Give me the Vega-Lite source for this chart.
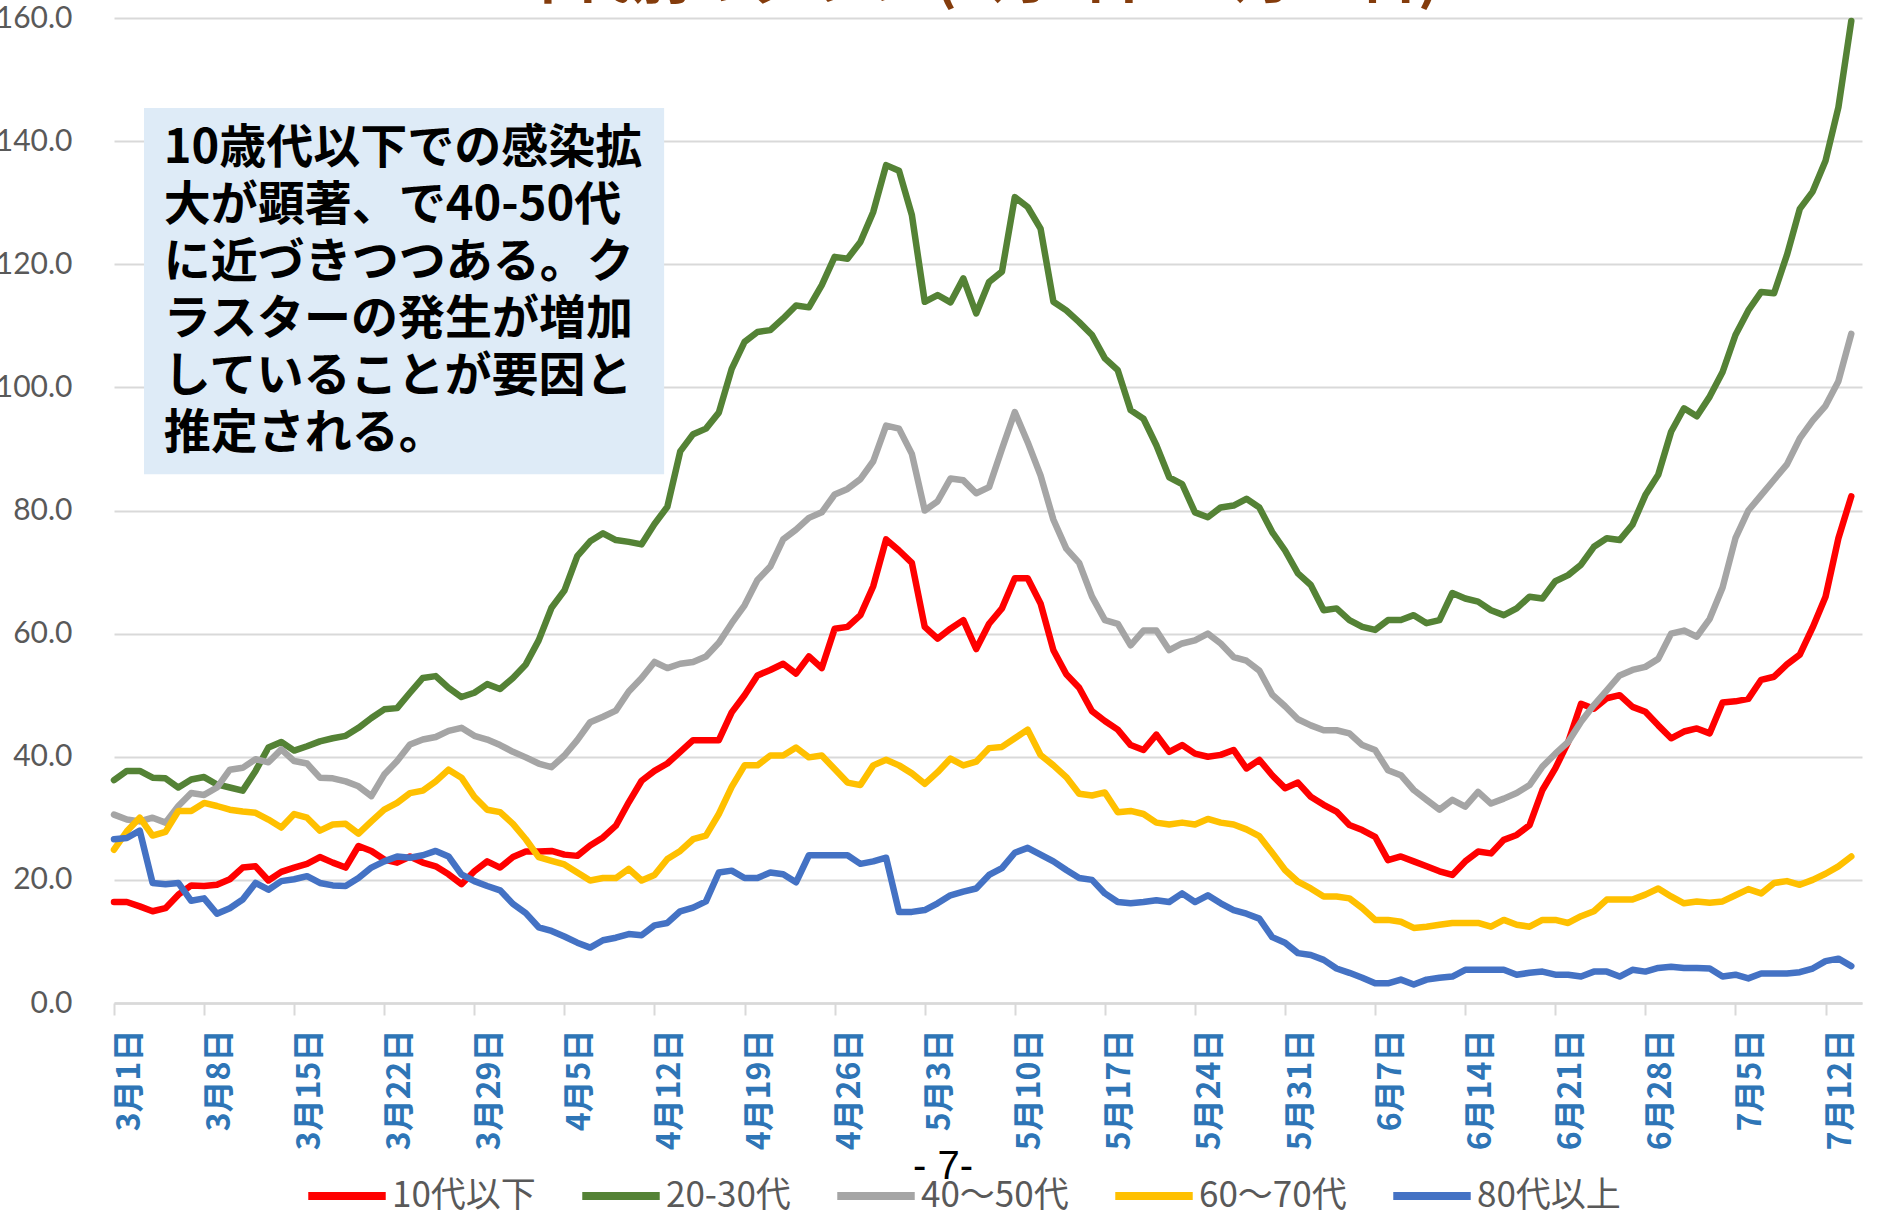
{
"$schema":"https://vega.github.io/schema/vega-lite/v6.json",
"autosize":{"type":"none"},
"width":1748,"height":985,
"padding":{"left":114,"top":18,"right":21,"bottom":215},
"background":"white",
"config":{"view":{"stroke":null}},
"datasets":{"rows":[
{"t":"2021/3/1","s":"10代以下","v":16.4},{"t":"2021/3/2","s":"10代以下","v":16.4},{"t":"2021/3/3","s":"10代以下","v":15.7},{"t":"2021/3/4","s":"10代以下","v":14.9},{"t":"2021/3/5","s":"10代以下","v":15.4},{"t":"2021/3/6","s":"10代以下","v":17.6},{"t":"2021/3/7","s":"10代以下","v":19.1},{"t":"2021/3/8","s":"10代以下","v":19.0},{"t":"2021/3/9","s":"10代以下","v":19.2},{"t":"2021/3/10","s":"10代以下","v":20.1},{"t":"2021/3/11","s":"10代以下","v":22.0},{"t":"2021/3/12","s":"10代以下","v":22.2},{"t":"2021/3/13","s":"10代以下","v":19.9},{"t":"2021/3/14","s":"10代以下","v":21.3},{"t":"2021/3/15","s":"10代以下","v":22.0},{"t":"2021/3/16","s":"10代以下","v":22.6},{"t":"2021/3/17","s":"10代以下","v":23.7},{"t":"2021/3/18","s":"10代以下","v":22.8},{"t":"2021/3/19","s":"10代以下","v":22.0},{"t":"2021/3/20","s":"10代以下","v":25.5},{"t":"2021/3/21","s":"10代以下","v":24.7},{"t":"2021/3/22","s":"10代以下","v":23.3},{"t":"2021/3/23","s":"10代以下","v":22.8},{"t":"2021/3/24","s":"10代以下","v":23.8},{"t":"2021/3/25","s":"10代以下","v":22.8},{"t":"2021/3/26","s":"10代以下","v":22.2},{"t":"2021/3/27","s":"10代以下","v":20.9},{"t":"2021/3/28","s":"10代以下","v":19.3},{"t":"2021/3/29","s":"10代以下","v":21.4},{"t":"2021/3/30","s":"10代以下","v":23.0},{"t":"2021/3/31","s":"10代以下","v":22.0},
{"t":"2021/4/1","s":"10代以下","v":23.7},{"t":"2021/4/2","s":"10代以下","v":24.6},{"t":"2021/4/3","s":"10代以下","v":24.6},{"t":"2021/4/4","s":"10代以下","v":24.7},{"t":"2021/4/5","s":"10代以下","v":24.1},{"t":"2021/4/6","s":"10代以下","v":23.9},{"t":"2021/4/7","s":"10代以下","v":25.6},{"t":"2021/4/8","s":"10代以下","v":26.9},{"t":"2021/4/9","s":"10代以下","v":28.8},{"t":"2021/4/10","s":"10代以下","v":32.6},{"t":"2021/4/11","s":"10代以下","v":36.1},{"t":"2021/4/12","s":"10代以下","v":37.7},{"t":"2021/4/13","s":"10代以下","v":38.9},{"t":"2021/4/14","s":"10代以下","v":40.8},{"t":"2021/4/15","s":"10代以下","v":42.7},{"t":"2021/4/16","s":"10代以下","v":42.7},{"t":"2021/4/17","s":"10代以下","v":42.7},{"t":"2021/4/18","s":"10代以下","v":47.2},{"t":"2021/4/19","s":"10代以下","v":50.0},{"t":"2021/4/20","s":"10代以下","v":53.2},{"t":"2021/4/21","s":"10代以下","v":54.1},{"t":"2021/4/22","s":"10代以下","v":55.1},{"t":"2021/4/23","s":"10代以下","v":53.5},{"t":"2021/4/24","s":"10代以下","v":56.3},{"t":"2021/4/25","s":"10代以下","v":54.4},{"t":"2021/4/26","s":"10代以下","v":60.8},{"t":"2021/4/27","s":"10代以下","v":61.1},{"t":"2021/4/28","s":"10代以下","v":63.0},{"t":"2021/4/29","s":"10代以下","v":67.7},{"t":"2021/4/30","s":"10代以下","v":75.3},
{"t":"2021/5/1","s":"10代以下","v":73.5},{"t":"2021/5/2","s":"10代以下","v":71.5},{"t":"2021/5/3","s":"10代以下","v":61.1},{"t":"2021/5/4","s":"10代以下","v":59.2},{"t":"2021/5/5","s":"10代以下","v":60.8},{"t":"2021/5/6","s":"10代以下","v":62.2},{"t":"2021/5/7","s":"10代以下","v":57.5},{"t":"2021/5/8","s":"10代以下","v":61.6},{"t":"2021/5/9","s":"10代以下","v":64.1},{"t":"2021/5/10","s":"10代以下","v":69.0},{"t":"2021/5/11","s":"10代以下","v":69.0},{"t":"2021/5/12","s":"10代以下","v":64.9},{"t":"2021/5/13","s":"10代以下","v":57.3},{"t":"2021/5/14","s":"10代以下","v":53.4},{"t":"2021/5/15","s":"10代以下","v":51.2},{"t":"2021/5/16","s":"10代以下","v":47.4},{"t":"2021/5/17","s":"10代以下","v":45.8},{"t":"2021/5/18","s":"10代以下","v":44.4},{"t":"2021/5/19","s":"10代以下","v":41.9},{"t":"2021/5/20","s":"10代以下","v":41.1},{"t":"2021/5/21","s":"10代以下","v":43.6},{"t":"2021/5/22","s":"10代以下","v":40.8},{"t":"2021/5/23","s":"10代以下","v":41.9},{"t":"2021/5/24","s":"10代以下","v":40.5},{"t":"2021/5/25","s":"10代以下","v":40.0},{"t":"2021/5/26","s":"10代以下","v":40.3},{"t":"2021/5/27","s":"10代以下","v":41.1},{"t":"2021/5/28","s":"10代以下","v":38.1},{"t":"2021/5/29","s":"10代以下","v":39.5},{"t":"2021/5/30","s":"10代以下","v":37.0},{"t":"2021/5/31","s":"10代以下","v":34.9},
{"t":"2021/6/1","s":"10代以下","v":35.8},{"t":"2021/6/2","s":"10代以下","v":33.5},{"t":"2021/6/3","s":"10代以下","v":32.2},{"t":"2021/6/4","s":"10代以下","v":31.1},{"t":"2021/6/5","s":"10代以下","v":28.9},{"t":"2021/6/6","s":"10代以下","v":28.1},{"t":"2021/6/7","s":"10代以下","v":27.0},{"t":"2021/6/8","s":"10代以下","v":23.2},{"t":"2021/6/9","s":"10代以下","v":23.8},{"t":"2021/6/10","s":"10代以下","v":23.0},{"t":"2021/6/11","s":"10代以下","v":22.2},{"t":"2021/6/12","s":"10代以下","v":21.4},{"t":"2021/6/13","s":"10代以下","v":20.8},{"t":"2021/6/14","s":"10代以下","v":23.0},{"t":"2021/6/15","s":"10代以下","v":24.6},{"t":"2021/6/16","s":"10代以下","v":24.3},{"t":"2021/6/17","s":"10代以下","v":26.5},{"t":"2021/6/18","s":"10代以下","v":27.3},{"t":"2021/6/19","s":"10代以下","v":28.9},{"t":"2021/6/20","s":"10代以下","v":34.6},{"t":"2021/6/21","s":"10代以下","v":38.1},{"t":"2021/6/22","s":"10代以下","v":42.4},{"t":"2021/6/23","s":"10代以下","v":48.6},{"t":"2021/6/24","s":"10代以下","v":47.8},{"t":"2021/6/25","s":"10代以下","v":49.5},{"t":"2021/6/26","s":"10代以下","v":50.0},{"t":"2021/6/27","s":"10代以下","v":48.1},{"t":"2021/6/28","s":"10代以下","v":47.3},{"t":"2021/6/29","s":"10代以下","v":45.1},{"t":"2021/6/30","s":"10代以下","v":43.0},
{"t":"2021/7/1","s":"10代以下","v":44.1},{"t":"2021/7/2","s":"10代以下","v":44.6},{"t":"2021/7/3","s":"10代以下","v":43.8},{"t":"2021/7/4","s":"10代以下","v":48.8},{"t":"2021/7/5","s":"10代以下","v":49.0},{"t":"2021/7/6","s":"10代以下","v":49.4},{"t":"2021/7/7","s":"10代以下","v":52.5},{"t":"2021/7/8","s":"10代以下","v":53.0},{"t":"2021/7/9","s":"10代以下","v":55.0},{"t":"2021/7/10","s":"10代以下","v":56.6},{"t":"2021/7/11","s":"10代以下","v":61.0},{"t":"2021/7/12","s":"10代以下","v":66.0},{"t":"2021/7/13","s":"10代以下","v":75.5},{"t":"2021/7/14","s":"10代以下","v":82.3},
{"t":"2021/3/1","s":"20-30代","v":36.2},{"t":"2021/3/2","s":"20-30代","v":37.7},{"t":"2021/3/3","s":"20-30代","v":37.7},{"t":"2021/3/4","s":"20-30代","v":36.6},{"t":"2021/3/5","s":"20-30代","v":36.5},{"t":"2021/3/6","s":"20-30代","v":35.0},{"t":"2021/3/7","s":"20-30代","v":36.3},{"t":"2021/3/8","s":"20-30代","v":36.7},{"t":"2021/3/9","s":"20-30代","v":35.5},{"t":"2021/3/10","s":"20-30代","v":35.0},{"t":"2021/3/11","s":"20-30代","v":34.5},{"t":"2021/3/12","s":"20-30代","v":37.7},{"t":"2021/3/13","s":"20-30代","v":41.5},{"t":"2021/3/14","s":"20-30代","v":42.4},{"t":"2021/3/15","s":"20-30代","v":41.0},{"t":"2021/3/16","s":"20-30代","v":41.7},{"t":"2021/3/17","s":"20-30代","v":42.5},{"t":"2021/3/18","s":"20-30代","v":43.0},{"t":"2021/3/19","s":"20-30代","v":43.4},{"t":"2021/3/20","s":"20-30代","v":44.7},{"t":"2021/3/21","s":"20-30代","v":46.3},{"t":"2021/3/22","s":"20-30代","v":47.7},{"t":"2021/3/23","s":"20-30代","v":47.9},{"t":"2021/3/24","s":"20-30代","v":50.4},{"t":"2021/3/25","s":"20-30代","v":52.8},{"t":"2021/3/26","s":"20-30代","v":53.1},{"t":"2021/3/27","s":"20-30代","v":51.2},{"t":"2021/3/28","s":"20-30代","v":49.7},{"t":"2021/3/29","s":"20-30代","v":50.4},{"t":"2021/3/30","s":"20-30代","v":51.8},{"t":"2021/3/31","s":"20-30代","v":51.0},
{"t":"2021/4/1","s":"20-30代","v":52.8},{"t":"2021/4/2","s":"20-30代","v":55.0},{"t":"2021/4/3","s":"20-30代","v":58.9},{"t":"2021/4/4","s":"20-30代","v":64.2},{"t":"2021/4/5","s":"20-30代","v":67.0},{"t":"2021/4/6","s":"20-30代","v":72.6},{"t":"2021/4/7","s":"20-30代","v":75.0},{"t":"2021/4/8","s":"20-30代","v":76.3},{"t":"2021/4/9","s":"20-30代","v":75.2},{"t":"2021/4/10","s":"20-30代","v":74.9},{"t":"2021/4/11","s":"20-30代","v":74.5},{"t":"2021/4/12","s":"20-30代","v":77.8},{"t":"2021/4/13","s":"20-30代","v":80.6},{"t":"2021/4/14","s":"20-30代","v":89.6},{"t":"2021/4/15","s":"20-30代","v":92.4},{"t":"2021/4/16","s":"20-30代","v":93.3},{"t":"2021/4/17","s":"20-30代","v":95.9},{"t":"2021/4/18","s":"20-30代","v":103.0},{"t":"2021/4/19","s":"20-30代","v":107.4},{"t":"2021/4/20","s":"20-30代","v":109.0},{"t":"2021/4/21","s":"20-30代","v":109.3},{"t":"2021/4/22","s":"20-30代","v":111.2},{"t":"2021/4/23","s":"20-30代","v":113.3},{"t":"2021/4/24","s":"20-30代","v":113.0},{"t":"2021/4/25","s":"20-30代","v":116.6},{"t":"2021/4/26","s":"20-30代","v":121.2},{"t":"2021/4/27","s":"20-30代","v":120.9},{"t":"2021/4/28","s":"20-30代","v":123.6},{"t":"2021/4/29","s":"20-30代","v":128.5},{"t":"2021/4/30","s":"20-30代","v":136.1},
{"t":"2021/5/1","s":"20-30代","v":135.2},{"t":"2021/5/2","s":"20-30代","v":128.0},{"t":"2021/5/3","s":"20-30代","v":113.9},{"t":"2021/5/4","s":"20-30代","v":115.0},{"t":"2021/5/5","s":"20-30代","v":113.8},{"t":"2021/5/6","s":"20-30代","v":117.7},{"t":"2021/5/7","s":"20-30代","v":112.0},{"t":"2021/5/8","s":"20-30代","v":117.1},{"t":"2021/5/9","s":"20-30代","v":118.8},{"t":"2021/5/10","s":"20-30代","v":130.9},{"t":"2021/5/11","s":"20-30代","v":129.3},{"t":"2021/5/12","s":"20-30代","v":125.8},{"t":"2021/5/13","s":"20-30代","v":113.9},{"t":"2021/5/14","s":"20-30代","v":112.5},{"t":"2021/5/15","s":"20-30代","v":110.6},{"t":"2021/5/16","s":"20-30代","v":108.5},{"t":"2021/5/17","s":"20-30代","v":104.7},{"t":"2021/5/18","s":"20-30代","v":102.8},{"t":"2021/5/19","s":"20-30代","v":96.3},{"t":"2021/5/20","s":"20-30代","v":94.9},{"t":"2021/5/21","s":"20-30代","v":90.6},{"t":"2021/5/22","s":"20-30代","v":85.4},{"t":"2021/5/23","s":"20-30代","v":84.3},{"t":"2021/5/24","s":"20-30代","v":79.7},{"t":"2021/5/25","s":"20-30代","v":78.9},{"t":"2021/5/26","s":"20-30代","v":80.5},{"t":"2021/5/27","s":"20-30代","v":80.8},{"t":"2021/5/28","s":"20-30代","v":81.9},{"t":"2021/5/29","s":"20-30代","v":80.5},{"t":"2021/5/30","s":"20-30代","v":76.5},{"t":"2021/5/31","s":"20-30代","v":73.5},
{"t":"2021/6/1","s":"20-30代","v":69.8},{"t":"2021/6/2","s":"20-30代","v":67.9},{"t":"2021/6/3","s":"20-30代","v":63.8},{"t":"2021/6/4","s":"20-30代","v":64.1},{"t":"2021/6/5","s":"20-30代","v":62.2},{"t":"2021/6/6","s":"20-30代","v":61.1},{"t":"2021/6/7","s":"20-30代","v":60.6},{"t":"2021/6/8","s":"20-30代","v":62.2},{"t":"2021/6/9","s":"20-30代","v":62.2},{"t":"2021/6/10","s":"20-30代","v":63.0},{"t":"2021/6/11","s":"20-30代","v":61.7},{"t":"2021/6/12","s":"20-30代","v":62.2},{"t":"2021/6/13","s":"20-30代","v":66.6},{"t":"2021/6/14","s":"20-30代","v":65.7},{"t":"2021/6/15","s":"20-30代","v":65.2},{"t":"2021/6/16","s":"20-30代","v":63.8},{"t":"2021/6/17","s":"20-30代","v":63.0},{"t":"2021/6/18","s":"20-30代","v":64.1},{"t":"2021/6/19","s":"20-30代","v":66.0},{"t":"2021/6/20","s":"20-30代","v":65.7},{"t":"2021/6/21","s":"20-30代","v":68.5},{"t":"2021/6/22","s":"20-30代","v":69.5},{"t":"2021/6/23","s":"20-30代","v":71.2},{"t":"2021/6/24","s":"20-30代","v":74.1},{"t":"2021/6/25","s":"20-30代","v":75.5},{"t":"2021/6/26","s":"20-30代","v":75.2},{"t":"2021/6/27","s":"20-30代","v":77.7},{"t":"2021/6/28","s":"20-30代","v":82.5},{"t":"2021/6/29","s":"20-30代","v":85.8},{"t":"2021/6/30","s":"20-30代","v":92.8},
{"t":"2021/7/1","s":"20-30代","v":96.6},{"t":"2021/7/2","s":"20-30代","v":95.3},{"t":"2021/7/3","s":"20-30代","v":98.5},{"t":"2021/7/4","s":"20-30代","v":102.5},{"t":"2021/7/5","s":"20-30代","v":108.5},{"t":"2021/7/6","s":"20-30代","v":112.5},{"t":"2021/7/7","s":"20-30代","v":115.5},{"t":"2021/7/8","s":"20-30代","v":115.3},{"t":"2021/7/9","s":"20-30代","v":121.5},{"t":"2021/7/10","s":"20-30代","v":129.0},{"t":"2021/7/11","s":"20-30代","v":131.8},{"t":"2021/7/12","s":"20-30代","v":136.8},{"t":"2021/7/13","s":"20-30代","v":145.5},{"t":"2021/7/14","s":"20-30代","v":159.5},
{"t":"2021/3/1","s":"40～50代","v":30.6},{"t":"2021/3/2","s":"40～50代","v":29.8},{"t":"2021/3/3","s":"40～50代","v":29.5},{"t":"2021/3/4","s":"40～50代","v":30.1},{"t":"2021/3/5","s":"40～50代","v":29.3},{"t":"2021/3/6","s":"40～50代","v":32.0},{"t":"2021/3/7","s":"40～50代","v":34.1},{"t":"2021/3/8","s":"40～50代","v":33.8},{"t":"2021/3/9","s":"40～50代","v":35.0},{"t":"2021/3/10","s":"40～50代","v":37.9},{"t":"2021/3/11","s":"40～50代","v":38.2},{"t":"2021/3/12","s":"40～50代","v":39.6},{"t":"2021/3/13","s":"40～50代","v":39.1},{"t":"2021/3/14","s":"40～50代","v":41.2},{"t":"2021/3/15","s":"40～50代","v":39.3},{"t":"2021/3/16","s":"40～50代","v":38.9},{"t":"2021/3/17","s":"40～50代","v":36.6},{"t":"2021/3/18","s":"40～50代","v":36.5},{"t":"2021/3/19","s":"40～50代","v":36.0},{"t":"2021/3/20","s":"40～50代","v":35.2},{"t":"2021/3/21","s":"40～50代","v":33.6},{"t":"2021/3/22","s":"40～50代","v":37.1},{"t":"2021/3/23","s":"40～50代","v":39.3},{"t":"2021/3/24","s":"40～50代","v":42.0},{"t":"2021/3/25","s":"40～50代","v":42.8},{"t":"2021/3/26","s":"40～50代","v":43.2},{"t":"2021/3/27","s":"40～50代","v":44.2},{"t":"2021/3/28","s":"40～50代","v":44.7},{"t":"2021/3/29","s":"40～50代","v":43.4},{"t":"2021/3/30","s":"40～50代","v":42.8},{"t":"2021/3/31","s":"40～50代","v":41.9},
{"t":"2021/4/1","s":"40～50代","v":40.8},{"t":"2021/4/2","s":"40～50代","v":39.9},{"t":"2021/4/3","s":"40～50代","v":38.9},{"t":"2021/4/4","s":"40～50代","v":38.3},{"t":"2021/4/5","s":"40～50代","v":40.2},{"t":"2021/4/6","s":"40～50代","v":42.7},{"t":"2021/4/7","s":"40～50代","v":45.6},{"t":"2021/4/8","s":"40～50代","v":46.5},{"t":"2021/4/9","s":"40～50代","v":47.5},{"t":"2021/4/10","s":"40～50代","v":50.6},{"t":"2021/4/11","s":"40～50代","v":52.8},{"t":"2021/4/12","s":"40～50代","v":55.4},{"t":"2021/4/13","s":"40～50代","v":54.4},{"t":"2021/4/14","s":"40～50代","v":55.1},{"t":"2021/4/15","s":"40～50代","v":55.4},{"t":"2021/4/16","s":"40～50代","v":56.3},{"t":"2021/4/17","s":"40～50代","v":58.5},{"t":"2021/4/18","s":"40～50代","v":61.7},{"t":"2021/4/19","s":"40～50代","v":64.6},{"t":"2021/4/20","s":"40～50代","v":68.7},{"t":"2021/4/21","s":"40～50代","v":70.9},{"t":"2021/4/22","s":"40～50代","v":75.3},{"t":"2021/4/23","s":"40～50代","v":76.9},{"t":"2021/4/24","s":"40～50代","v":78.8},{"t":"2021/4/25","s":"40～50代","v":79.7},{"t":"2021/4/26","s":"40～50代","v":82.6},{"t":"2021/4/27","s":"40～50代","v":83.5},{"t":"2021/4/28","s":"40～50代","v":85.1},{"t":"2021/4/29","s":"40～50代","v":88.0},{"t":"2021/4/30","s":"40～50代","v":93.8},
{"t":"2021/5/1","s":"40～50代","v":93.3},{"t":"2021/5/2","s":"40～50代","v":89.2},{"t":"2021/5/3","s":"40～50代","v":80.0},{"t":"2021/5/4","s":"40～50代","v":81.5},{"t":"2021/5/5","s":"40～50代","v":85.2},{"t":"2021/5/6","s":"40～50代","v":84.9},{"t":"2021/5/7","s":"40～50代","v":82.8},{"t":"2021/5/8","s":"40～50代","v":83.8},{"t":"2021/5/9","s":"40～50代","v":90.0},{"t":"2021/5/10","s":"40～50代","v":96.0},{"t":"2021/5/11","s":"40～50代","v":91.1},{"t":"2021/5/12","s":"40～50代","v":85.7},{"t":"2021/5/13","s":"40～50代","v":78.5},{"t":"2021/5/14","s":"40～50代","v":73.8},{"t":"2021/5/15","s":"40～50代","v":71.5},{"t":"2021/5/16","s":"40～50代","v":66.0},{"t":"2021/5/17","s":"40～50代","v":62.2},{"t":"2021/5/18","s":"40～50代","v":61.6},{"t":"2021/5/19","s":"40～50代","v":58.1},{"t":"2021/5/20","s":"40～50代","v":60.5},{"t":"2021/5/21","s":"40～50代","v":60.5},{"t":"2021/5/22","s":"40～50代","v":57.3},{"t":"2021/5/23","s":"40～50代","v":58.4},{"t":"2021/5/24","s":"40～50代","v":58.9},{"t":"2021/5/25","s":"40～50代","v":60.0},{"t":"2021/5/26","s":"40～50代","v":58.4},{"t":"2021/5/27","s":"40～50代","v":56.2},{"t":"2021/5/28","s":"40～50代","v":55.6},{"t":"2021/5/29","s":"40～50代","v":54.0},{"t":"2021/5/30","s":"40～50代","v":50.1},{"t":"2021/5/31","s":"40～50代","v":48.2},
{"t":"2021/6/1","s":"40～50代","v":46.1},{"t":"2021/6/2","s":"40～50代","v":45.1},{"t":"2021/6/3","s":"40～50代","v":44.3},{"t":"2021/6/4","s":"40～50代","v":44.3},{"t":"2021/6/5","s":"40～50代","v":43.8},{"t":"2021/6/6","s":"40～50代","v":41.9},{"t":"2021/6/7","s":"40～50代","v":41.1},{"t":"2021/6/8","s":"40～50代","v":37.8},{"t":"2021/6/9","s":"40～50代","v":37.0},{"t":"2021/6/10","s":"40～50代","v":34.6},{"t":"2021/6/11","s":"40～50代","v":33.0},{"t":"2021/6/12","s":"40～50代","v":31.4},{"t":"2021/6/13","s":"40～50代","v":33.0},{"t":"2021/6/14","s":"40～50代","v":31.9},{"t":"2021/6/15","s":"40～50代","v":34.3},{"t":"2021/6/16","s":"40～50代","v":32.4},{"t":"2021/6/17","s":"40～50代","v":33.2},{"t":"2021/6/18","s":"40～50代","v":34.1},{"t":"2021/6/19","s":"40～50代","v":35.4},{"t":"2021/6/20","s":"40～50代","v":38.4},{"t":"2021/6/21","s":"40～50代","v":40.5},{"t":"2021/6/22","s":"40～50代","v":42.4},{"t":"2021/6/23","s":"40～50代","v":45.7},{"t":"2021/6/24","s":"40～50代","v":48.4},{"t":"2021/6/25","s":"40～50代","v":50.8},{"t":"2021/6/26","s":"40～50代","v":53.2},{"t":"2021/6/27","s":"40～50代","v":54.1},{"t":"2021/6/28","s":"40～50代","v":54.6},{"t":"2021/6/29","s":"40～50代","v":55.9},{"t":"2021/6/30","s":"40～50代","v":60.0},
{"t":"2021/7/1","s":"40～50代","v":60.5},{"t":"2021/7/2","s":"40～50代","v":59.5},{"t":"2021/7/3","s":"40～50代","v":62.4},{"t":"2021/7/4","s":"40～50代","v":67.5},{"t":"2021/7/5","s":"40～50代","v":75.5},{"t":"2021/7/6","s":"40～50代","v":80.0},{"t":"2021/7/7","s":"40～50代","v":82.5},{"t":"2021/7/8","s":"40～50代","v":85.0},{"t":"2021/7/9","s":"40～50代","v":87.5},{"t":"2021/7/10","s":"40～50代","v":91.7},{"t":"2021/7/11","s":"40～50代","v":94.6},{"t":"2021/7/12","s":"40～50代","v":97.0},{"t":"2021/7/13","s":"40～50代","v":101.0},{"t":"2021/7/14","s":"40～50代","v":108.7},
{"t":"2021/3/1","s":"60～70代","v":24.9},{"t":"2021/3/2","s":"60～70代","v":27.9},{"t":"2021/3/3","s":"60～70代","v":30.1},{"t":"2021/3/4","s":"60～70代","v":27.2},{"t":"2021/3/5","s":"60～70代","v":27.8},{"t":"2021/3/6","s":"60～70代","v":31.2},{"t":"2021/3/7","s":"60～70代","v":31.2},{"t":"2021/3/8","s":"60～70代","v":32.5},{"t":"2021/3/9","s":"60～70代","v":32.0},{"t":"2021/3/10","s":"60～70代","v":31.4},{"t":"2021/3/11","s":"60～70代","v":31.1},{"t":"2021/3/12","s":"60～70代","v":30.9},{"t":"2021/3/13","s":"60～70代","v":29.8},{"t":"2021/3/14","s":"60～70代","v":28.5},{"t":"2021/3/15","s":"60～70代","v":30.7},{"t":"2021/3/16","s":"60～70代","v":30.1},{"t":"2021/3/17","s":"60～70代","v":28.0},{"t":"2021/3/18","s":"60～70代","v":29.0},{"t":"2021/3/19","s":"60～70代","v":29.1},{"t":"2021/3/20","s":"60～70代","v":27.5},{"t":"2021/3/21","s":"60～70代","v":29.5},{"t":"2021/3/22","s":"60～70代","v":31.4},{"t":"2021/3/23","s":"60～70代","v":32.5},{"t":"2021/3/24","s":"60～70代","v":34.1},{"t":"2021/3/25","s":"60～70代","v":34.5},{"t":"2021/3/26","s":"60～70代","v":36.0},{"t":"2021/3/27","s":"60～70代","v":37.9},{"t":"2021/3/28","s":"60～70代","v":36.6},{"t":"2021/3/29","s":"60～70代","v":33.5},{"t":"2021/3/30","s":"60～70代","v":31.4},{"t":"2021/3/31","s":"60～70代","v":31.0},
{"t":"2021/4/1","s":"60～70代","v":29.1},{"t":"2021/4/2","s":"60～70代","v":26.6},{"t":"2021/4/3","s":"60～70代","v":23.7},{"t":"2021/4/4","s":"60～70代","v":23.1},{"t":"2021/4/5","s":"60～70代","v":22.5},{"t":"2021/4/6","s":"60～70代","v":21.2},{"t":"2021/4/7","s":"60～70代","v":19.9},{"t":"2021/4/8","s":"60～70代","v":20.3},{"t":"2021/4/9","s":"60～70代","v":20.3},{"t":"2021/4/10","s":"60～70代","v":21.8},{"t":"2021/4/11","s":"60～70代","v":19.9},{"t":"2021/4/12","s":"60～70代","v":20.8},{"t":"2021/4/13","s":"60～70代","v":23.4},{"t":"2021/4/14","s":"60～70代","v":24.7},{"t":"2021/4/15","s":"60～70代","v":26.6},{"t":"2021/4/16","s":"60～70代","v":27.2},{"t":"2021/4/17","s":"60～70代","v":30.7},{"t":"2021/4/18","s":"60～70代","v":35.1},{"t":"2021/4/19","s":"60～70代","v":38.6},{"t":"2021/4/20","s":"60～70代","v":38.6},{"t":"2021/4/21","s":"60～70代","v":40.2},{"t":"2021/4/22","s":"60～70代","v":40.2},{"t":"2021/4/23","s":"60～70代","v":41.5},{"t":"2021/4/24","s":"60～70代","v":39.9},{"t":"2021/4/25","s":"60～70代","v":40.2},{"t":"2021/4/26","s":"60～70代","v":38.0},{"t":"2021/4/27","s":"60～70代","v":35.8},{"t":"2021/4/28","s":"60～70代","v":35.4},{"t":"2021/4/29","s":"60～70代","v":38.6},{"t":"2021/4/30","s":"60～70代","v":39.5},
{"t":"2021/5/1","s":"60～70代","v":38.6},{"t":"2021/5/2","s":"60～70代","v":37.3},{"t":"2021/5/3","s":"60～70代","v":35.6},{"t":"2021/5/4","s":"60～70代","v":37.5},{"t":"2021/5/5","s":"60～70代","v":39.7},{"t":"2021/5/6","s":"60～70代","v":38.6},{"t":"2021/5/7","s":"60～70代","v":39.2},{"t":"2021/5/8","s":"60～70代","v":41.4},{"t":"2021/5/9","s":"60～70代","v":41.6},{"t":"2021/5/10","s":"60～70代","v":43.0},{"t":"2021/5/11","s":"60～70代","v":44.4},{"t":"2021/5/12","s":"60～70代","v":40.3},{"t":"2021/5/13","s":"60～70代","v":38.6},{"t":"2021/5/14","s":"60～70代","v":36.7},{"t":"2021/5/15","s":"60～70代","v":34.0},{"t":"2021/5/16","s":"60～70代","v":33.7},{"t":"2021/5/17","s":"60～70代","v":34.2},{"t":"2021/5/18","s":"60～70代","v":31.0},{"t":"2021/5/19","s":"60～70代","v":31.2},{"t":"2021/5/20","s":"60～70代","v":30.7},{"t":"2021/5/21","s":"60～70代","v":29.3},{"t":"2021/5/22","s":"60～70代","v":29.0},{"t":"2021/5/23","s":"60～70代","v":29.3},{"t":"2021/5/24","s":"60～70代","v":29.0},{"t":"2021/5/25","s":"60～70代","v":29.9},{"t":"2021/5/26","s":"60～70代","v":29.3},{"t":"2021/5/27","s":"60～70代","v":29.0},{"t":"2021/5/28","s":"60～70代","v":28.2},{"t":"2021/5/29","s":"60～70代","v":27.1},{"t":"2021/5/30","s":"60～70代","v":24.4},{"t":"2021/5/31","s":"60～70代","v":21.6},
{"t":"2021/6/1","s":"60～70代","v":19.7},{"t":"2021/6/2","s":"60～70代","v":18.6},{"t":"2021/6/3","s":"60～70代","v":17.3},{"t":"2021/6/4","s":"60～70代","v":17.3},{"t":"2021/6/5","s":"60～70代","v":17.0},{"t":"2021/6/6","s":"60～70代","v":15.4},{"t":"2021/6/7","s":"60～70代","v":13.5},{"t":"2021/6/8","s":"60～70代","v":13.5},{"t":"2021/6/9","s":"60～70代","v":13.2},{"t":"2021/6/10","s":"60～70代","v":12.2},{"t":"2021/6/11","s":"60～70代","v":12.4},{"t":"2021/6/12","s":"60～70代","v":12.7},{"t":"2021/6/13","s":"60～70代","v":13.0},{"t":"2021/6/14","s":"60～70代","v":13.0},{"t":"2021/6/15","s":"60～70代","v":13.0},{"t":"2021/6/16","s":"60～70代","v":12.4},{"t":"2021/6/17","s":"60～70代","v":13.5},{"t":"2021/6/18","s":"60～70代","v":12.7},{"t":"2021/6/19","s":"60～70代","v":12.4},{"t":"2021/6/20","s":"60～70代","v":13.5},{"t":"2021/6/21","s":"60～70代","v":13.5},{"t":"2021/6/22","s":"60～70代","v":13.0},{"t":"2021/6/23","s":"60～70代","v":14.1},{"t":"2021/6/24","s":"60～70代","v":14.9},{"t":"2021/6/25","s":"60～70代","v":16.8},{"t":"2021/6/26","s":"60～70代","v":16.8},{"t":"2021/6/27","s":"60～70代","v":16.8},{"t":"2021/6/28","s":"60～70代","v":17.6},{"t":"2021/6/29","s":"60～70代","v":18.6},{"t":"2021/6/30","s":"60～70代","v":17.3},
{"t":"2021/7/1","s":"60～70代","v":16.2},{"t":"2021/7/2","s":"60～70代","v":16.5},{"t":"2021/7/3","s":"60～70代","v":16.3},{"t":"2021/7/4","s":"60～70代","v":16.5},{"t":"2021/7/5","s":"60～70代","v":17.5},{"t":"2021/7/6","s":"60～70代","v":18.5},{"t":"2021/7/7","s":"60～70代","v":17.8},{"t":"2021/7/8","s":"60～70代","v":19.5},{"t":"2021/7/9","s":"60～70代","v":19.8},{"t":"2021/7/10","s":"60～70代","v":19.2},{"t":"2021/7/11","s":"60～70代","v":20.0},{"t":"2021/7/12","s":"60～70代","v":21.0},{"t":"2021/7/13","s":"60～70代","v":22.2},{"t":"2021/7/14","s":"60～70代","v":23.8},
{"t":"2021/3/1","s":"80代以上","v":26.6},{"t":"2021/3/2","s":"80代以上","v":26.8},{"t":"2021/3/3","s":"80代以上","v":28.0},{"t":"2021/3/4","s":"80代以上","v":19.5},{"t":"2021/3/5","s":"80代以上","v":19.3},{"t":"2021/3/6","s":"80代以上","v":19.5},{"t":"2021/3/7","s":"80代以上","v":16.6},{"t":"2021/3/8","s":"80代以上","v":17.0},{"t":"2021/3/9","s":"80代以上","v":14.5},{"t":"2021/3/10","s":"80代以上","v":15.4},{"t":"2021/3/11","s":"80代以上","v":16.8},{"t":"2021/3/12","s":"80代以上","v":19.5},{"t":"2021/3/13","s":"80代以上","v":18.4},{"t":"2021/3/14","s":"80代以上","v":19.8},{"t":"2021/3/15","s":"80代以上","v":20.1},{"t":"2021/3/16","s":"80代以上","v":20.6},{"t":"2021/3/17","s":"80代以上","v":19.5},{"t":"2021/3/18","s":"80代以上","v":19.1},{"t":"2021/3/19","s":"80代以上","v":19.0},{"t":"2021/3/20","s":"80代以上","v":20.3},{"t":"2021/3/21","s":"80代以上","v":22.0},{"t":"2021/3/22","s":"80代以上","v":23.0},{"t":"2021/3/23","s":"80代以上","v":23.8},{"t":"2021/3/24","s":"80代以上","v":23.6},{"t":"2021/3/25","s":"80代以上","v":24.0},{"t":"2021/3/26","s":"80代以上","v":24.7},{"t":"2021/3/27","s":"80代以上","v":23.8},{"t":"2021/3/28","s":"80代以上","v":20.9},{"t":"2021/3/29","s":"80代以上","v":19.8},{"t":"2021/3/30","s":"80代以上","v":19.0},{"t":"2021/3/31","s":"80代以上","v":18.3},
{"t":"2021/4/1","s":"80代以上","v":16.1},{"t":"2021/4/2","s":"80代以上","v":14.6},{"t":"2021/4/3","s":"80代以上","v":12.3},{"t":"2021/4/4","s":"80代以上","v":11.7},{"t":"2021/4/5","s":"80代以上","v":10.8},{"t":"2021/4/6","s":"80代以上","v":9.8},{"t":"2021/4/7","s":"80代以上","v":9.0},{"t":"2021/4/8","s":"80代以上","v":10.2},{"t":"2021/4/9","s":"80代以上","v":10.6},{"t":"2021/4/10","s":"80代以上","v":11.2},{"t":"2021/4/11","s":"80代以上","v":11.0},{"t":"2021/4/12","s":"80代以上","v":12.6},{"t":"2021/4/13","s":"80代以上","v":13.0},{"t":"2021/4/14","s":"80代以上","v":14.9},{"t":"2021/4/15","s":"80代以上","v":15.5},{"t":"2021/4/16","s":"80代以上","v":16.5},{"t":"2021/4/17","s":"80代以上","v":21.2},{"t":"2021/4/18","s":"80代以上","v":21.5},{"t":"2021/4/19","s":"80代以上","v":20.3},{"t":"2021/4/20","s":"80代以上","v":20.3},{"t":"2021/4/21","s":"80代以上","v":21.2},{"t":"2021/4/22","s":"80代以上","v":20.9},{"t":"2021/4/23","s":"80代以上","v":19.6},{"t":"2021/4/24","s":"80代以上","v":24.0},{"t":"2021/4/25","s":"80代以上","v":24.0},{"t":"2021/4/26","s":"80代以上","v":24.0},{"t":"2021/4/27","s":"80代以上","v":24.0},{"t":"2021/4/28","s":"80代以上","v":22.6},{"t":"2021/4/29","s":"80代以上","v":23.0},{"t":"2021/4/30","s":"80代以上","v":23.6},
{"t":"2021/5/1","s":"80代以上","v":14.8},{"t":"2021/5/2","s":"80代以上","v":14.8},{"t":"2021/5/3","s":"80代以上","v":15.1},{"t":"2021/5/4","s":"80代以上","v":16.2},{"t":"2021/5/5","s":"80代以上","v":17.5},{"t":"2021/5/6","s":"80代以上","v":18.1},{"t":"2021/5/7","s":"80代以上","v":18.6},{"t":"2021/5/8","s":"80代以上","v":20.8},{"t":"2021/5/9","s":"80代以上","v":21.9},{"t":"2021/5/10","s":"80代以上","v":24.4},{"t":"2021/5/11","s":"80代以上","v":25.2},{"t":"2021/5/12","s":"80代以上","v":24.1},{"t":"2021/5/13","s":"80代以上","v":23.0},{"t":"2021/5/14","s":"80代以上","v":21.6},{"t":"2021/5/15","s":"80代以上","v":20.3},{"t":"2021/5/16","s":"80代以上","v":20.0},{"t":"2021/5/17","s":"80代以上","v":17.8},{"t":"2021/5/18","s":"80代以上","v":16.4},{"t":"2021/5/19","s":"80代以上","v":16.2},{"t":"2021/5/20","s":"80代以上","v":16.4},{"t":"2021/5/21","s":"80代以上","v":16.7},{"t":"2021/5/22","s":"80代以上","v":16.4},{"t":"2021/5/23","s":"80代以上","v":17.8},{"t":"2021/5/24","s":"80代以上","v":16.4},{"t":"2021/5/25","s":"80代以上","v":17.5},{"t":"2021/5/26","s":"80代以上","v":16.2},{"t":"2021/5/27","s":"80代以上","v":15.1},{"t":"2021/5/28","s":"80代以上","v":14.5},{"t":"2021/5/29","s":"80代以上","v":13.7},{"t":"2021/5/30","s":"80代以上","v":10.7},{"t":"2021/5/31","s":"80代以上","v":9.8},
{"t":"2021/6/1","s":"80代以上","v":8.1},{"t":"2021/6/2","s":"80代以上","v":7.8},{"t":"2021/6/3","s":"80代以上","v":7.0},{"t":"2021/6/4","s":"80代以上","v":5.6},{"t":"2021/6/5","s":"80代以上","v":4.9},{"t":"2021/6/6","s":"80代以上","v":4.1},{"t":"2021/6/7","s":"80代以上","v":3.2},{"t":"2021/6/8","s":"80代以上","v":3.2},{"t":"2021/6/9","s":"80代以上","v":3.8},{"t":"2021/6/10","s":"80代以上","v":3.0},{"t":"2021/6/11","s":"80代以上","v":3.8},{"t":"2021/6/12","s":"80代以上","v":4.1},{"t":"2021/6/13","s":"80代以上","v":4.3},{"t":"2021/6/14","s":"80代以上","v":5.4},{"t":"2021/6/15","s":"80代以上","v":5.4},{"t":"2021/6/16","s":"80代以上","v":5.4},{"t":"2021/6/17","s":"80代以上","v":5.4},{"t":"2021/6/18","s":"80代以上","v":4.6},{"t":"2021/6/19","s":"80代以上","v":4.9},{"t":"2021/6/20","s":"80代以上","v":5.1},{"t":"2021/6/21","s":"80代以上","v":4.6},{"t":"2021/6/22","s":"80代以上","v":4.6},{"t":"2021/6/23","s":"80代以上","v":4.3},{"t":"2021/6/24","s":"80代以上","v":5.1},{"t":"2021/6/25","s":"80代以上","v":5.1},{"t":"2021/6/26","s":"80代以上","v":4.3},{"t":"2021/6/27","s":"80代以上","v":5.4},{"t":"2021/6/28","s":"80代以上","v":5.1},{"t":"2021/6/29","s":"80代以上","v":5.7},{"t":"2021/6/30","s":"80代以上","v":5.9},
{"t":"2021/7/1","s":"80代以上","v":5.7},{"t":"2021/7/2","s":"80代以上","v":5.7},{"t":"2021/7/3","s":"80代以上","v":5.6},{"t":"2021/7/4","s":"80代以上","v":4.3},{"t":"2021/7/5","s":"80代以上","v":4.6},{"t":"2021/7/6","s":"80代以上","v":4.0},{"t":"2021/7/7","s":"80代以上","v":4.8},{"t":"2021/7/8","s":"80代以上","v":4.8},{"t":"2021/7/9","s":"80代以上","v":4.8},{"t":"2021/7/10","s":"80代以上","v":5.0},{"t":"2021/7/11","s":"80代以上","v":5.6},{"t":"2021/7/12","s":"80代以上","v":6.8},{"t":"2021/7/13","s":"80代以上","v":7.2},{"t":"2021/7/14","s":"80代以上","v":6.0}
]},
"layer":[
{"data":{"name":"rows"},
 "mark":{"type":"line","strokeWidth":6.5,"strokeJoin":"round","strokeCap":"round"},
 "encoding":{
  "x":{"field":"t","type":"temporal",
   "scale":{"domain":[{"year":2021,"month":3,"date":1},{"year":2021,"month":7,"date":14,"hours":20}],"nice":false},
   "axis":{"title":null,"grid":false,
    "values":[{"year":2021,"month":3,"date":1},{"year":2021,"month":3,"date":8},{"year":2021,"month":3,"date":15},{"year":2021,"month":3,"date":22},{"year":2021,"month":3,"date":29},{"year":2021,"month":4,"date":5},{"year":2021,"month":4,"date":12},{"year":2021,"month":4,"date":19},{"year":2021,"month":4,"date":26},{"year":2021,"month":5,"date":3},{"year":2021,"month":5,"date":10},{"year":2021,"month":5,"date":17},{"year":2021,"month":5,"date":24},{"year":2021,"month":5,"date":31},{"year":2021,"month":6,"date":7},{"year":2021,"month":6,"date":14},{"year":2021,"month":6,"date":21},{"year":2021,"month":6,"date":28},{"year":2021,"month":7,"date":5},{"year":2021,"month":7,"date":12}],
    "format":"%-m月%-d日","labelAngle":-90,"labelAlign":"right","labelBaseline":"middle",
    "labelColor":"#2E75B6","labelFont":"Noto Sans CJK JP","labelFontSize":32,"labelFontWeight":"bold",
    "labelPadding":14,"labelOffset":15,"labelOverlap":false,"labelFlush":false,"labelBound":false,
    "tickColor":"#D9D9D9","tickSize":12,"tickWidth":2,"domainColor":"#D9D9D9","domainWidth":2.5}},
  "y":{"field":"v","type":"quantitative",
   "scale":{"domain":[0,160],"nice":false,"zero":true},
   "axis":{"title":null,"values":[0,20,40,60,80,100,120,140,160],"format":".1f","domain":false,"ticks":false,"tickSize":0,
    "labelPadding":42,"labelFont":"Lato","labelFontSize":30,"labelColor":"#595959","labelFlush":false,"labelBound":false,
    "grid":true,"gridColor":"#D9D9D9","gridWidth":2}},
  "color":{"field":"s","type":"nominal",
   "scale":{"domain":["10代以下","20-30代","40～50代","60～70代","80代以上"],"range":["#FF0000","#548235","#A5A5A5","#FFC000","#4472C4"]},
   "legend":{"orient":"none","legendX":190,"legendY":1135,"direction":"horizontal","title":null,
    "symbolType":"stroke","symbolSize":6000,"symbolStrokeWidth":8,
    "labelFont":"Noto Sans CJK JP","labelFontSize":35,"labelColor":"#595959","labelOffset":2,"labelLimit":400,"columnPadding":30}}
 }},
{"data":{"values":[{}]},
 "mark":{"type":"rect","fill":"#DEEBF7"},
 "encoding":{
  "x":{"datum":{"year":2021,"month":3,"date":3,"hours":8},"type":"temporal","axis":{"title":null}},
  "x2":{"datum":{"year":2021,"month":4,"date":12,"hours":18}},
  "y":{"datum":145.4,"type":"quantitative","axis":{"title":null}},
  "y2":{"datum":85.9}}},
{"data":{"values":[{}]},
 "mark":{"type":"text","text":["10歳代以下での感染拡","大が顕著、で40-50代","に近づきつつある。ク","ラスターの発生が増加","していることが要因と","推定される。"],
  "align":"left","baseline":"top","font":"Noto Sans CJK JP","fontSize":47,"fontWeight":"bold","lineHeight":57,"color":"#000000"},
 "encoding":{
  "x":{"datum":{"year":2021,"month":3,"date":4,"hours":21},"type":"temporal","axis":{"title":null}},
  "y":{"datum":142.5,"type":"quantitative","axis":{"title":null}}}},
{"data":{"values":[{}]},
 "mark":{"type":"text","text":"- 7-","align":"center","baseline":"middle","font":"Liberation Sans","fontSize":40,"color":"#000000"},
 "encoding":{
  "x":{"datum":{"year":2021,"month":5,"date":4,"hours":10},"type":"temporal","axis":{"title":null}},
  "y":{"datum":-26.6,"type":"quantitative","axis":{"title":null}}}},
{"data":{"values":[{}]},
 "mark":{"type":"text","text":"年代別のグラフ (3月1日～7月14日)","align":"center","baseline":"alphabetic","font":"Noto Sans CJK JP","fontSize":58,"fontWeight":"bold","color":"#843C0C"},
 "encoding":{
  "x":{"datum":{"year":2021,"month":5,"date":7,"hours":3},"type":"temporal","axis":{"title":null}},
  "y":{"datum":163.2,"type":"quantitative","axis":{"title":null}}}}
]
}
